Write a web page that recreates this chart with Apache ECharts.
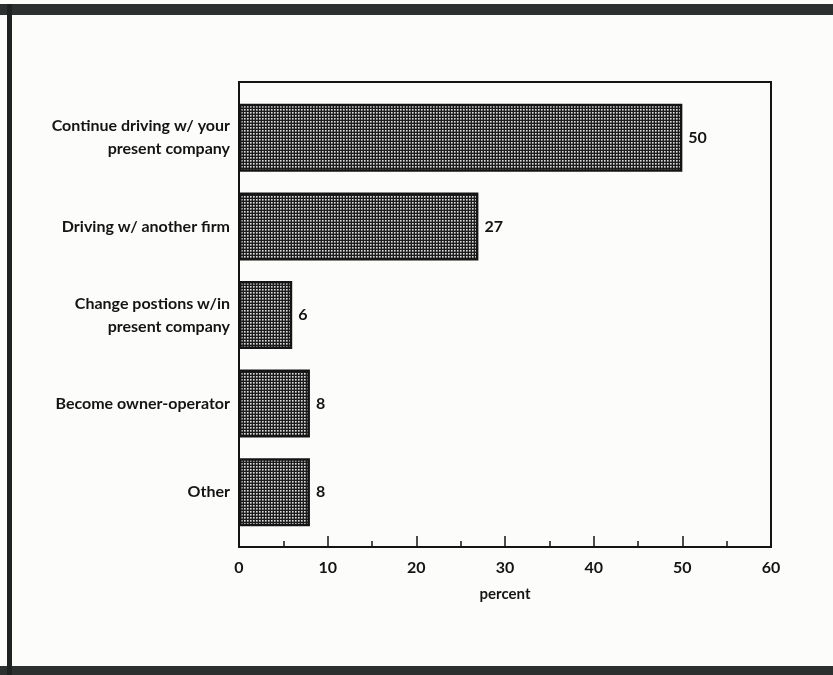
<!DOCTYPE html>
<html>
<head>
<meta charset="utf-8">
<title>Future plans of drivers</title>
<script src="https://cdn.jsdelivr.net/npm/echarts@6/dist/echarts.min.js"></script>
<style>
  html, body { margin: 0; padding: 0; background: #fcfcfa; }
  #chart { width: 833px; height: 675px; }
</style>
</head>
<body>
<div id="chart"></div>
<script>
// Survey answers and their shares (percent)
const categories = [
  'Continue driving w/ your\npresent company',
  'Driving w/ another firm',
  'Change postions w/in\npresent company',
  'Become owner-operator',
  'Other'
];
const values = [50, 27, 6, 8, 8];
const xTicks = [0, 10, 20, 30, 40, 50, 60];

// Fine dotted fill for the bars: light dots on a dark ground
function dotPattern() {
  const c = document.createElement('canvas');
  c.width = 3; c.height = 3;
  const g = c.getContext('2d');
  g.fillStyle = '#1c1c1c';
  g.fillRect(0, 0, 3, 3);
  g.fillStyle = '#dedede';
  g.fillRect(1, 1, 1, 1);
  g.fillStyle = '#949494';
  g.fillRect(2, 1, 1, 1);
  g.fillRect(1, 2, 1, 1);
  g.fillStyle = '#626262';
  g.fillRect(2, 2, 1, 1);
  return c;
}

const font = 'Lato, "DejaVu Sans", sans-serif';
const ink = '#141414';

const chart = echarts.init(document.getElementById('chart'), null, { renderer: 'canvas' });

const xMin = xTicks[0];
const xMax = xTicks[xTicks.length - 1];

chart.setOption({
  backgroundColor: '#fcfcfa',
  animation: false,
  graphic: [
    // page edges: dark band top and bottom, rule on the left
    { type: 'rect', shape: { x: 0, y: 4, width: 833, height: 11 }, style: { fill: '#2c302f' }, z: 0 },
    { type: 'rect', shape: { x: 0, y: 666, width: 833, height: 9 }, style: { fill: '#2c302f' }, z: 0 },
    { type: 'rect', shape: { x: 7, y: 4, width: 5, height: 671 }, style: { fill: '#1e2221' }, z: 0 }
  ],
  grid: [
    // plot frame with the percent scale
    { left: 239, top: 82, width: 532, height: 465, show: true, borderColor: ink, borderWidth: 2, backgroundColor: 'transparent' },
    // inner area holding the bars
    { left: 239, top: 93.5, width: 532, height: 443 }
  ],
  xAxis: [
    {
      gridIndex: 0,
      type: 'value',
      min: xMin,
      max: xMax,
      interval: 10,
      axisLine: { show: true, lineStyle: { color: ink, width: 2 } },
      axisTick: { show: true, inside: true, length: 11, lineStyle: { color: ink, width: 1.5 } },
      minorTick: { show: true, splitNumber: 2, length: 6, lineStyle: { color: ink, width: 1.5 } },
      splitLine: { show: false },
      axisLabel: { margin: 13, color: ink, fontFamily: font, fontWeight: 'bold', fontSize: 16 },
      name: 'percent',
      nameLocation: 'middle',
      nameGap: 40,
      nameTextStyle: { color: ink, fontFamily: font, fontWeight: 'bold', fontSize: 15 }
    },
    { gridIndex: 1, type: 'value', min: xMin, max: xMax, show: false }
  ],
  yAxis: [
    { gridIndex: 0, type: 'value', min: 0, max: 1, show: false },
    {
      gridIndex: 1,
      type: 'category',
      inverse: true,
      data: categories,
      axisLine: { show: false },
      axisTick: { show: false },
      splitLine: { show: false },
      axisLabel: {
        margin: 9,
        color: ink,
        fontFamily: font,
        fontWeight: 'bold',
        fontSize: 16,
        lineHeight: 23,
        align: 'right'
      }
    }
  ],
  series: [
    {
      type: 'bar',
      xAxisIndex: 1,
      yAxisIndex: 1,
      data: values,
      barWidth: 68,
      itemStyle: {
        color: { image: dotPattern(), repeat: 'repeat' },
        borderColor: ink,
        borderWidth: 2.5
      },
      label: {
        show: true,
        position: 'right',
        distance: 6,
        color: ink,
        fontFamily: font,
        fontWeight: 'bold',
        fontSize: 16
      }
    }
  ]
});
</script>
</body>
</html>
